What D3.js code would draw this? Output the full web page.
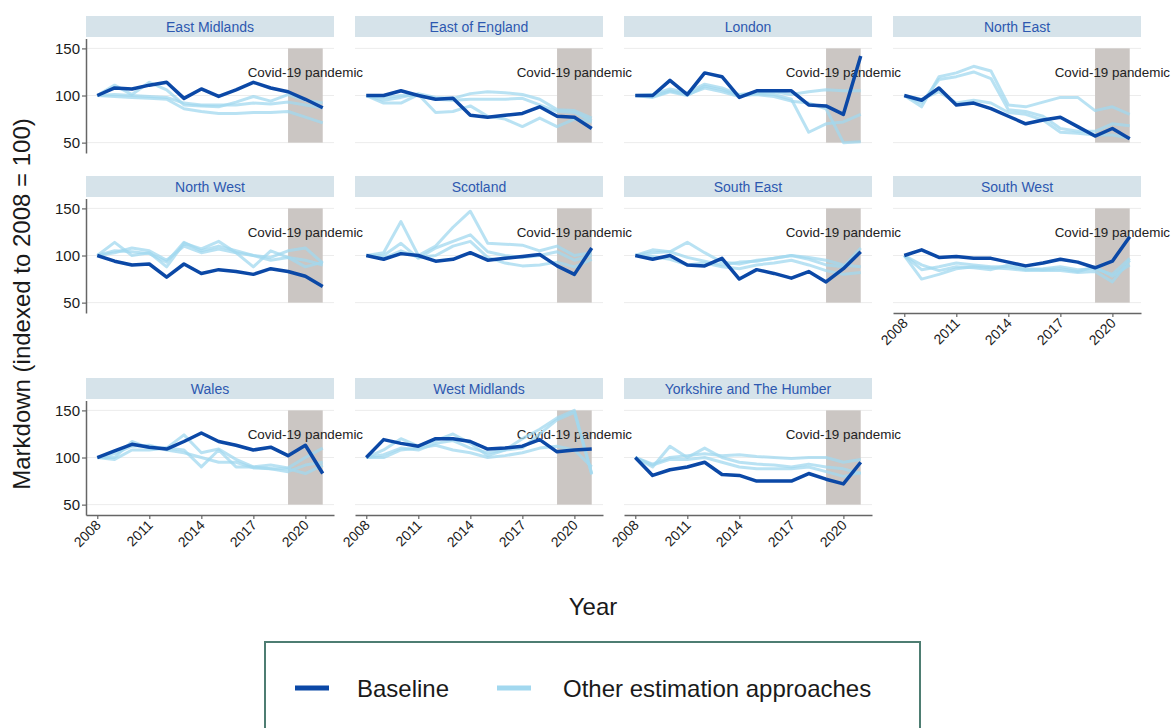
<!DOCTYPE html>
<html>
<head>
<meta charset="utf-8">
<script src="https://cdn.jsdelivr.net/npm/d3@7"></script>
<style>
  html, body { margin: 0; padding: 0; background: #ffffff; }
  svg { display: block; font-family: "Liberation Sans", Arial, sans-serif; }
</style>
</head>
<body>
<svg id="chart" width="1172" height="728"></svg>
<script>
// ---------------- DATA ----------------
const years = [2008, 2009, 2010, 2011, 2012, 2013, 2014, 2015, 2016, 2017, 2018, 2019, 2020, 2021];
const regions = ["East Midlands", "East of England", "London", "North East",
                 "North West", "Scotland", "South East", "South West",
                 "Wales", "West Midlands", "Yorkshire and The Humber"];
const xTicks = [2008, 2011, 2014, 2017, 2020];
const yTicks = [50, 100, 150];
const covidStart = 2019, covidEnd = 2021, covidLabelYear = 2020, covidLabelValue = 124;
const covidLabel = "Covid-19 pandemic";

const baseline = [
  [100, 108, 107, 111, 114, 97, 107, 99, 106, 114, 108, 104, 96, 87],      // East Midlands
  [100, 100, 105, 100, 96, 97, 79, 77, 79, 81, 88, 78, 77, 65],            // East of England
  [100, 100, 116, 101, 124, 120, 98, 105, 105, 105, 90, 89, 80, 142],       // London
  [100, 95, 108, 90, 92, 86, 78, 70, 74, 77, 67, 57, 65, 54],               // North East
  [100, 94, 90, 91, 77, 91, 81, 85, 83, 80, 86, 83, 78, 67],                // North West
  [100, 96, 102, 100, 94, 96, 103, 95, 97, 99, 101, 89, 80, 108],           // Scotland
  [100, 96, 100, 90, 89, 97, 75, 85, 81, 76, 83, 72, 86, 104],              // South East
  [100, 106, 98, 99, 97, 97, 93, 89, 92, 96, 93, 87, 94, 120],              // South West
  [100, 107, 114, 111, 109, 117, 126, 117, 113, 108, 111, 102, 113, 83],    // Wales
  [100, 119, 115, 112, 120, 120, 117, 109, 110, 112, 119, 106, 108, 109],   // West Midlands
  [100, 81, 87, 90, 95, 82, 81, 75, 75, 75, 83, 77, 72, 95]                 // Yorkshire and The Humber
];
const otherA = [
  [100, 111, 101, 114, 106, 90, 89, 88, 93, 99, 94, 101, 95, 92],
  [100, 95, 98, 102, 98, 97, 102, 104, 103, 101, 96, 85, 84, 76],
  [100, 101, 107, 103, 112, 108, 101, 103, 104, 101, 104, 106, 105, 105],
  [100, 88, 120, 124, 131, 126, 90, 88, 93, 98, 98, 84, 88, 80],
  [100, 114, 100, 103, 88, 113, 107, 115, 103, 88, 105, 98, 95, 90],
  [100, 103, 136, 100, 110, 130, 147, 113, 112, 111, 105, 110, 100, 103],
  [100, 106, 104, 114, 103, 93, 91, 95, 97, 100, 96, 90, 88, 108],
  [100, 75, 80, 86, 88, 87, 86, 84, 84, 84, 82, 83, 72, 95],
  [100, 100, 117, 110, 110, 124, 105, 109, 98, 90, 92, 89, 100, 110],
  [100, 108, 120, 112, 118, 125, 115, 102, 108, 120, 130, 142, 150, 83],
  [100, 90, 112, 100, 110, 100, 95, 93, 92, 90, 93, 90, 88, 83]
];
const otherB = [
  [100, 101, 100, 99, 98, 92, 90, 90, 90, 92, 91, 93, 90, 87],
  [100, 92, 92, 101, 82, 83, 89, 78, 75, 67, 76, 67, 75, 72],
  [100, 99, 105, 101, 108, 104, 99, 102, 101, 96, 61, 70, 72, 80],
  [100, 92, 117, 120, 125, 118, 85, 83, 78, 65, 62, 62, 70, 68],
  [100, 103, 108, 105, 95, 110, 103, 107, 103, 100, 98, 105, 108, 92],
  [100, 100, 113, 97, 108, 115, 122, 104, 100, 98, 100, 104, 95, 100],
  [100, 103, 104, 98, 94, 90, 93, 94, 97, 100, 98, 95, 90, 88],
  [100, 85, 88, 92, 90, 88, 88, 85, 86, 88, 85, 86, 80, 97],
  [100, 104, 112, 113, 108, 105, 100, 95, 95, 89, 88, 88, 83, 92],
  [100, 103, 110, 108, 115, 118, 110, 105, 108, 110, 125, 140, 148, 82],
  [100, 93, 100, 102, 104, 102, 103, 101, 100, 99, 100, 100, 95, 98]
];
const otherC = [
  [100, 99, 98, 97, 96, 86, 83, 81, 81, 82, 82, 83, 77, 71],
  [100, 98, 100, 100, 96, 95, 96, 96, 96, 97, 90, 83, 82, 73],
  [100, 98, 104, 100, 110, 106, 100, 101, 99, 94, 92, 86, 50, 51],
  [100, 96, 104, 92, 95, 92, 82, 80, 74, 61, 60, 58, 58, 55],
  [100, 105, 104, 102, 93, 114, 105, 110, 105, 100, 95, 98, 88, 93],
  [100, 97, 105, 98, 100, 110, 115, 98, 92, 89, 90, 93, 88, 96],
  [100, 99, 96, 90, 92, 88, 86, 90, 92, 95, 90, 84, 80, 82],
  [100, 90, 84, 88, 87, 85, 90, 86, 85, 86, 83, 88, 78, 90],
  [100, 98, 108, 108, 110, 108, 90, 108, 90, 90, 88, 85, 92, 95],
  [100, 100, 108, 110, 113, 108, 105, 100, 102, 105, 110, 112, 108, 90],
  [100, 92, 98, 98, 100, 95, 90, 88, 88, 88, 90, 85, 80, 84]
];
const legendLabels = ["Baseline", "Other estimation approaches"];

// ---------------- LAYOUT ----------------
const colors = { base: "#0b48a6", other: "#a2d8ef", strip: "#d6e3ea", stripText: "#2d58b0",
                 grid: "#ececec", shade: "#cbc6c3", axis: "#666666" };
const colLeft = [86, 355, 624, 893];
const stripTop = [16, 176, 378];
const panelW = 248, stripH = 21, panelOffset = 22.5, panelH = 114.5;
const ncol = 4;

const svg = d3.select("#chart");

const x = d3.scaleLinear().domain([2008 - 0.65, 2021 + 0.65]).range([0, panelW]);
const y = d3.scaleLinear().domain([39, 160.5]).range([panelH, 0]);
const line = d3.line().x((d, i) => x(years[i])).y(d => y(d));

const bottomPanels = new Set([7, 8, 9, 10]);

const layers = { back: svg.append("g"), text: svg.append("g"), lines: svg.append("g") };

regions.forEach((name, idx) => {
  const r = Math.floor(idx / ncol), c = idx % ncol;
  const px = colLeft[c], st = stripTop[r], py = st + panelOffset;

  // strip
  const back = layers.back.append("g");
  back.append("rect").attr("x", px).attr("y", st).attr("width", panelW).attr("height", stripH)
    .attr("fill", colors.strip);
  back.append("text").attr("x", px + panelW / 2).attr("y", st + stripH / 2 + 5)
    .attr("text-anchor", "middle").attr("font-size", 14).attr("fill", colors.stripText)
    .text(name);

  const g = back.append("g").attr("transform", `translate(${px},${py})`);
  // gridlines
  g.selectAll("line.grid").data(yTicks).join("line")
    .attr("x1", 0).attr("x2", panelW).attr("y1", d => y(d)).attr("y2", d => y(d))
    .attr("stroke", colors.grid).attr("stroke-width", 1);
  // covid shading
  g.append("rect").attr("x", x(covidStart)).attr("width", x(covidEnd) - x(covidStart))
    .attr("y", y(150)).attr("height", y(50) - y(150)).attr("fill", colors.shade);

  // axes
  if (c === 0) {
    const ya = g.append("g").call(d3.axisLeft(y).tickValues(yTicks).tickSize(4).tickSizeOuter(0));
    ya.select(".domain").attr("stroke", colors.axis).attr("stroke-width", 1.5);
    ya.selectAll(".tick line").attr("stroke", colors.axis).attr("stroke-width", 1.2);
    ya.selectAll(".tick text").attr("font-size", 15).attr("fill", "#1a1a1a")
      .attr("font-family", "'Liberation Sans', Arial, sans-serif").attr("x", -6);
  }
  if (bottomPanels.has(idx)) {
    const xa = g.append("g").attr("transform", `translate(0,${panelH})`)
      .call(d3.axisBottom(x).tickValues(xTicks).tickFormat(d3.format("d")).tickSize(4).tickSizeOuter(0));
    xa.select(".domain").attr("stroke", colors.axis).attr("stroke-width", 1.5);
    xa.selectAll(".tick line").attr("stroke", colors.axis).attr("stroke-width", 1.2);
    xa.selectAll(".tick text").attr("font-size", 14).attr("fill", "#1a1a1a")
      .attr("font-family", "'Liberation Sans', Arial, sans-serif")
      .attr("text-anchor", "end").attr("dy", null).attr("y", 0)
      .attr("transform", "translate(4,11) rotate(-45)");
  }

  // covid label
  layers.text.append("text")
    .attr("x", px + x(covidLabelYear)).attr("y", py + y(covidLabelValue))
    .attr("text-anchor", "middle").attr("dominant-baseline", "central")
    .attr("font-size", 13.4).attr("fill", "#222").text(covidLabel);

  // lines
  const lg = layers.lines.append("g").attr("transform", `translate(${px},${py})`);
  [otherA[idx], otherB[idx], otherC[idx]].forEach(s => {
    lg.append("path").attr("d", line(s)).attr("fill", "none")
      .attr("stroke", colors.other).attr("stroke-width", 3).attr("stroke-opacity", 0.75)
      .attr("stroke-linejoin", "round");
  });
  lg.append("path").attr("d", line(baseline[idx])).attr("fill", "none")
    .attr("stroke", colors.base).attr("stroke-width", 3.5).attr("stroke-linejoin", "round");
});

// axis titles
svg.append("text").attr("transform", "translate(30,304) rotate(-90)")
  .attr("text-anchor", "middle").attr("font-size", 24).attr("fill", "#1a1a1a")
  .text("Markdown (indexed to 2008 = 100)");
svg.append("text").attr("x", 593).attr("y", 615)
  .attr("text-anchor", "middle").attr("font-size", 24).attr("fill", "#1a1a1a")
  .text("Year");

// legend
const leg = svg.append("g");
leg.append("rect").attr("x", 265).attr("y", 642).attr("width", 655).attr("height", 100)
  .attr("fill", "none").attr("stroke", "#4e7d72").attr("stroke-width", 2);
const legItems = [
  { label: legendLabels[0], color: colors.base, kx: 295, tx: 357 },
  { label: legendLabels[1], color: colors.other, kx: 497, tx: 563 }
];
legItems.forEach(it => {
  leg.append("line").attr("x1", it.kx).attr("x2", it.kx + 34).attr("y1", 688).attr("y2", 688)
    .attr("stroke", it.color).attr("stroke-width", 5);
  leg.append("text").attr("x", it.tx).attr("y", 697).attr("font-size", 24).attr("fill", "#1a1a1a")
    .text(it.label);
});
</script>
</body>
</html>
